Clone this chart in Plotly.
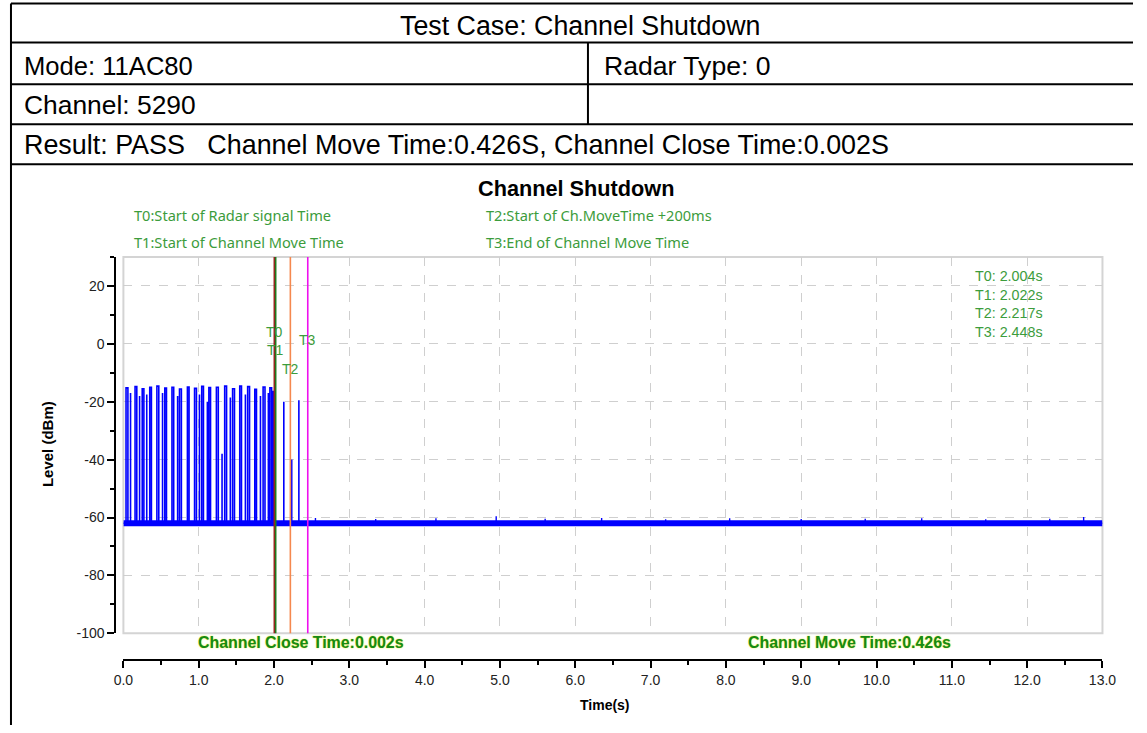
import plotly.graph_objects as go

W, H = 1147, 733

# ---------------- data ----------------
# radar pulse bursts before the channel was closed (time in s, level in dBm)
pulse_start = [0.035, 0.155, 0.250, 0.350, 0.445, 0.550, 0.645, 0.745, 0.850, 0.945,
               1.040, 1.135, 1.235, 1.345, 1.450, 1.545, 1.650, 1.745, 1.855, 1.945, 1.985]
pulse_end = [0.060, 0.178, 0.272, 0.372, 0.470, 0.572, 0.668, 0.770, 0.872, 0.970,
             1.063, 1.157, 1.260, 1.370, 1.475, 1.568, 1.675, 1.767, 1.880, 1.968, 2.003]
pulse_peak = [-15.2, -14.8, -15.5, -15.0, -14.6, -15.3, -15.0, -15.6, -14.9, -15.4,
              -14.7, -15.1, -15.0, -14.6, -15.5, -14.6, -14.8, -15.7, -14.9, -15.2, -16.5]

# single-sample spikes
spike_time = [0.095, 0.215, 0.31, 0.52, 0.72, 1.01, 1.115, 1.145, 1.31, 1.42, 1.62, 1.82,
              1.925, 2.13, 2.235, 2.33]
spike_level = [-17.0, -18.0, -17.5, -17.0, -18.0, -17.5, -20.0, -40.0, -38.0, -18.5, -17.5,
               -18.0, -17.0, -20.0, -40.0, -19.5]

# noise floor of the analyser trace
noise_floor = -62.0
noise_bump_time = [2.55, 3.35, 4.15, 4.95, 5.6, 6.35, 7.2, 8.05, 9.0, 9.85, 10.6, 11.45,
                   12.3, 12.75]
noise_bump_level = [-60.2, -60.5, -60.3, -59.6, -60.4, -60.2, -60.6, -60.3, -60.5, -60.4,
                    -60.3, -60.6, -60.4, -59.8]

# markers
t_names = ["T0", "T1", "T2", "T3"]
t_times = [2.004, 2.022, 2.217, 2.448]
t_colors = ["#a01e1e", "#1f7a1f", "#f5884e", "#ee10ee"]
t_label_y = [4.0, -2.2, -8.8, 1.4]
t_desc = ["T0:Start of Radar signal Time", "T1:Start of Channel Move Time",
          "T2:Start of Ch.MoveTime +200ms", "T3:End of Channel Move Time"]

x_ticks = list(range(0, 14))
y_ticks = [-100, -80, -60, -40, -20, 0, 20]
y_tick_text = ["-100", "-80", "-60", "-40", "-20", "0", "20"]

table_rows = ["Test Case: Channel Shutdown", "Mode: 11AC80", "Radar Type: 0",
              "Channel: 5290",
              "Result: PASS\u00a0\u00a0\u00a0Channel Move Time:0.426S, Channel Close Time:0.002S"]

# ---------------- build the pulse polyline ----------------
events = []
for s, e, p in zip(pulse_start, pulse_end, pulse_peak):
    events.append((s, [s, s, e, e], [noise_floor, p, p, noise_floor]))
for t, lv in zip(spike_time, spike_level):
    events.append((t, [t, t, t], [noise_floor, lv, noise_floor]))
events.sort(key=lambda ev: ev[0])
px, py = [0.0], [noise_floor]
for _, xs, ys in events:
    px += xs
    py += ys
px.append(13.0)
py.append(noise_floor)

bx, by = [], []
for t, lv in zip(noise_bump_time, noise_bump_level):
    bx += [t, t, None]
    by += [noise_floor, lv, None]

fig = go.Figure()
fig.add_trace(go.Scatter(x=[0, 13], y=[noise_floor, noise_floor], mode="lines",
                         line=dict(color="#0000ff", width=6), hoverinfo="skip"))
fig.add_trace(go.Scatter(x=px, y=py, mode="lines",
                         line=dict(color="#0000ff", width=1.6), hoverinfo="skip"))
fig.add_trace(go.Scatter(x=bx, y=by, mode="lines",
                         line=dict(color="#0000ff", width=1.4), hoverinfo="skip"))

# ---------------- geometry: target picture pixels -> paper ----------------
# (calibrated: the photographed page appears slightly scaled/offset)
SX, BX, SY, BY = 0.98, 9.5, 0.991, 0.5

def px2x(p):
    return max((p - BX) / SX, 1.0) / W

def px2y(p):
    return 1 - ((p - BY) / SY) / H

plot_l, plot_r, plot_t, plot_b = 123, 1103, 258, 635
xaxis_y = 662
yaxis_x = 115

shapes = []
# plot frame
shapes.append(dict(type="rect", xref="paper", yref="paper", x0=px2x(plot_l),
                   x1=px2x(plot_r), y0=px2y(plot_b), y1=px2y(plot_t),
                   line=dict(color="#d4d4d4", width=2), layer="below"))
# marker lines
for t, c in zip(t_times, t_colors):
    shapes.append(dict(type="line", xref="x", yref="paper", x0=t, x1=t,
                       y0=px2y(plot_b), y1=px2y(plot_t),
                       line=dict(color=c, width=1.6), layer="above"))
# report table
black = dict(color="black", width=2)
for yy in [4, 43, 85, 125, 165]:
    shapes.append(dict(type="line", xref="paper", yref="paper", x0=px2x(7), x1=1,
                       y0=px2y(yy), y1=px2y(yy), line=black))
shapes.append(dict(type="line", xref="paper", yref="paper", x0=px2x(7), x1=px2x(7),
                   y0=px2y(4), y1=0, line=black))
shapes.append(dict(type="line", xref="paper", yref="paper", x0=px2x(588), x1=px2x(588),
                   y0=px2y(43), y1=px2y(125), line=black))

ann = []
def tfont(size):
    return dict(family="Liberation Sans, Arial", size=size, color="black")

ann.append(dict(text=table_rows[0], x=px2x(581), y=px2y(27), xanchor="center",
                font=tfont(26.8)))
ann.append(dict(text=table_rows[1], x=px2x(22), y=px2y(67), xanchor="left",
                font=tfont(25.6)))
ann.append(dict(text=table_rows[2], x=px2x(602), y=px2y(67), xanchor="left",
                font=tfont(26.6)))
ann.append(dict(text=table_rows[3], x=px2x(22), y=px2y(106), xanchor="left",
                font=tfont(26.4)))
ann.append(dict(text=table_rows[4], x=px2x(22), y=px2y(146), xanchor="left",
                font=tfont(26.9)))
for a in ann:
    a.update(xref="paper", yref="paper", yanchor="middle", showarrow=False)

green = "#3c9c3c"
gfont = dict(family="Noto Sans, Open Sans, sans-serif", size=14.6, color=green)
ann.append(dict(text="<b>Channel Shutdown</b>", x=px2x(576), y=px2y(189), xref="paper",
                yref="paper", xanchor="center", yanchor="middle", showarrow=False,
                font=tfont(21.7)))
desc_pos = [(132, 216), (132, 243), (484, 216), (484, 243)]
for d, (xx, yy) in zip(t_desc, desc_pos):
    ann.append(dict(text=d, x=px2x(xx), y=px2y(yy), xref="paper", yref="paper",
                    xanchor="left", yanchor="middle", showarrow=False, font=gfont))
# marker names next to the lines
for n, t, ly in zip(t_names, t_times, t_label_y):
    ann.append(dict(text=n, x=t, y=ly, xref="x", yref="y", xanchor="center",
                    yanchor="middle", showarrow=False,
                    font=dict(family="Liberation Sans, Arial", size=14, color=green)))
# marker values box
for i, (n, t) in enumerate(zip(t_names, t_times)):
    ann.append(dict(text=f"{n}: {t:.3f}s", x=px2x(973), y=px2y(277 + 18.7 * i),
                    xref="paper", yref="paper", xanchor="left", yanchor="middle",
                    showarrow=False,
                    font=dict(family="Liberation Sans, Arial", size=14.3, color=green)))
# bottom result texts
rfont = dict(family="Liberation Sans, Arial", size=15.9, color="#168a16",
             shadow="0px 0px 1.5px #e8e800")
ann.append(dict(text="<b>Channel Close Time:0.002s</b>", x=px2x(301), y=px2y(644),
                xref="paper", yref="paper", xanchor="center", yanchor="middle",
                showarrow=False, font=rfont))
ann.append(dict(text="<b>Channel Move Time:0.426s</b>", x=px2x(850), y=px2y(644),
                xref="paper", yref="paper", xanchor="center", yanchor="middle",
                showarrow=False, font=rfont))
# axis titles
ann.append(dict(text="<b>Level (dBm)</b>", x=px2x(47), y=px2y(445), xref="paper",
                yref="paper", xanchor="center", yanchor="middle", textangle=-90,
                showarrow=False, font=tfont(15)))
ann.append(dict(text="<b>Time(s)</b>", x=px2x(605), y=px2y(707), xref="paper",
                yref="paper", xanchor="center", yanchor="middle", showarrow=False,
                font=tfont(14)))

tickfont = dict(family="Liberation Sans, Arial", size=14, color="#222222")
fig.update_layout(
    width=W, height=H, margin=dict(l=0, r=0, t=0, b=0),
    paper_bgcolor="white", plot_bgcolor="white", showlegend=False,
    shapes=shapes, annotations=ann,
    xaxis=dict(domain=[px2x(plot_l), px2x(plot_r)], range=[0, 13], anchor="free",
               position=px2y(xaxis_y), showline=True, linecolor="black", linewidth=2,
               ticks="outside", ticklen=7, tickwidth=1.5, tickcolor="black",
               tickmode="array", tickvals=x_ticks,
               ticktext=[f"{v:.1f}" for v in x_ticks], tickfont=tickfont,
               showgrid=True, gridcolor="#cfcfcf", griddash="dash", gridwidth=1,
               zeroline=False,
               minor=dict(tickmode="linear", tick0=0, dtick=0.5, ticks="outside",
                          ticklen=4, tickwidth=1.5, tickcolor="black", showgrid=False)),
    yaxis=dict(domain=[px2y(plot_b), px2y(plot_t)], range=[-100, 30], anchor="free",
               position=px2x(yaxis_x), showline=True, linecolor="black", linewidth=2,
               ticks="outside", ticklen=7, tickwidth=1.5, tickcolor="black",
               tickmode="array", tickvals=y_ticks, ticktext=y_tick_text,
               tickfont=tickfont, showgrid=True, gridcolor="#cfcfcf", griddash="dash",
               gridwidth=1, zeroline=False,
               minor=dict(tickmode="linear", tick0=0, dtick=10, ticks="outside",
                          ticklen=4, tickwidth=1.5, tickcolor="black", showgrid=False)),
)

fig.write_html(
    "out.html",
    config={"displayModeBar": False},
    post_script=("document.documentElement.style.overflow='hidden';"
                 "document.body.style.margin='0';"
                 "document.body.style.overflow='hidden';"),
)
